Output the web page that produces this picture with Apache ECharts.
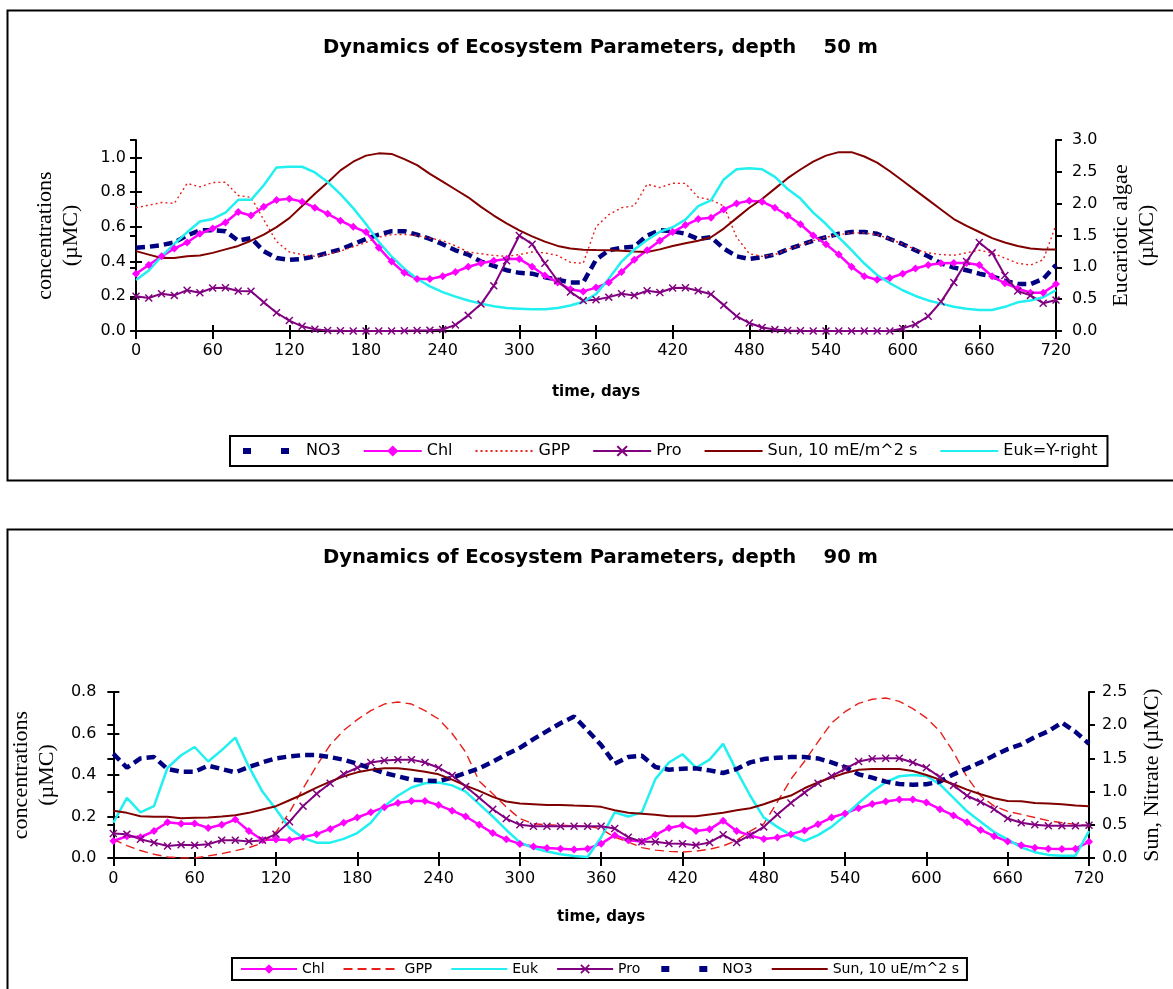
<!DOCTYPE html>
<html>
<head>
<meta charset="utf-8">
<script src="https://cdn.jsdelivr.net/npm/echarts@6/dist/echarts.min.js"></script>
<style>
  html, body { margin: 0; padding: 0; background: #fff; }
  #top { position: absolute; left: 0; top: 0; width: 1173px; height: 500px; }
  #bottom { position: absolute; left: 0; top: 500px; width: 1173px; height: 489px; }
</style>
</head>
<body>
<div id="top"></div>
<div id="bottom"></div>
<script>
// Time axis (days) shared by both depths
const days = [0,10,20,30,40,50,60,70,80,90,100,110,120,130,140,150,160,170,180,190,
  200,210,220,230,240,250,260,270,280,290,300,310,320,330,340,350,360,370,380,390,
  400,410,420,430,440,450,460,470,480,490,500,510,520,530,540,550,560,570,580,590,
  600,610,620,630,640,650,660,670,680,690,700,710,720];

// ---- depth 50 m ----
const no3_50 = [0.48,0.485,0.495,0.51,0.55,0.58,0.58,0.575,0.52,0.535,
  0.46,0.42,0.41,0.415,0.43,0.45,0.47,0.50,0.53,0.555,
  0.575,0.575,0.555,0.53,0.50,0.465,0.44,0.40,0.375,0.35,
  0.335,0.33,0.31,0.295,0.28,0.28,0.41,0.465,0.48,0.485,
  0.55,0.58,0.575,0.56,0.53,0.54,0.475,0.43,0.415,0.425,
  0.44,0.47,0.495,0.52,0.54,0.56,0.57,0.57,0.56,0.53,
  0.50,0.465,0.43,0.39,0.365,0.35,0.33,0.315,0.29,0.27,
  0.27,0.30,0.38];
const chl_50 = [0.33,0.38,0.43,0.475,0.51,0.56,0.59,0.625,0.685,0.665,
  0.715,0.755,0.762,0.745,0.71,0.675,0.635,0.60,0.57,0.48,
  0.40,0.335,0.30,0.30,0.315,0.34,0.37,0.39,0.405,0.415,
  0.415,0.37,0.32,0.28,0.24,0.228,0.25,0.28,0.34,0.41,
  0.465,0.52,0.57,0.61,0.645,0.652,0.70,0.735,0.75,0.745,
  0.71,0.665,0.615,0.55,0.50,0.44,0.37,0.315,0.295,0.305,
  0.33,0.36,0.38,0.39,0.392,0.392,0.38,0.315,0.275,0.245,
  0.22,0.22,0.27];
const gpp_50 = [0.71,0.725,0.74,0.735,0.85,0.83,0.855,0.857,0.78,0.77,
  0.64,0.515,0.455,0.44,0.43,0.44,0.46,0.485,0.51,0.54,
  0.555,0.556,0.55,0.535,0.52,0.49,0.455,0.445,0.435,0.43,
  0.44,0.455,0.45,0.435,0.395,0.39,0.60,0.67,0.71,0.722,
  0.845,0.826,0.851,0.85,0.77,0.755,0.72,0.54,0.445,0.43,
  0.44,0.47,0.495,0.52,0.54,0.555,0.565,0.565,0.555,0.53,
  0.50,0.47,0.45,0.44,0.436,0.45,0.465,0.45,0.42,0.39,
  0.38,0.41,0.61];
const pro_50 = [0.20,0.19,0.215,0.205,0.235,0.22,0.248,0.249,0.23,0.229,
  0.165,0.105,0.06,0.027,0.01,0.003,0.001,0,0,0,
  0,0.001,0.003,0.005,0.009,0.035,0.09,0.155,0.26,0.405,
  0.55,0.50,0.39,0.29,0.225,0.175,0.18,0.195,0.215,0.205,
  0.232,0.222,0.248,0.249,0.232,0.212,0.149,0.085,0.046,0.02,
  0.008,0.003,0.001,0,0,0,0,0,0,0,
  0.015,0.038,0.085,0.168,0.28,0.40,0.51,0.45,0.32,0.23,
  0.205,0.16,0.178];
const sun_50 = [0.46,0.44,0.42,0.42,0.43,0.435,0.45,0.47,0.49,0.52,
  0.555,0.598,0.65,0.72,0.79,0.855,0.925,0.975,1.01,1.023,
  1.02,0.99,0.955,0.905,0.86,0.815,0.77,0.715,0.665,0.62,
  0.58,0.545,0.515,0.49,0.475,0.468,0.466,0.465,0.462,0.458,
  0.455,0.47,0.49,0.505,0.52,0.54,0.59,0.65,0.71,0.76,
  0.82,0.88,0.93,0.975,1.01,1.03,1.03,1.005,0.97,0.92,
  0.865,0.81,0.755,0.70,0.645,0.605,0.57,0.535,0.51,0.49,
  0.475,0.47,0.47];
const euk_50 = [0.80,0.95,1.17,1.37,1.55,1.72,1.76,1.86,2.06,2.06,
  2.29,2.57,2.58,2.58,2.49,2.34,2.15,1.93,1.68,1.40,
  1.17,0.98,0.82,0.70,0.61,0.54,0.48,0.43,0.39,0.36,
  0.35,0.34,0.34,0.36,0.40,0.46,0.58,0.82,1.09,1.28,
  1.43,1.56,1.63,1.75,1.96,2.05,2.38,2.54,2.555,2.54,
  2.42,2.23,2.08,1.86,1.68,1.47,1.27,1.06,0.88,0.75,
  0.64,0.55,0.48,0.43,0.38,0.35,0.33,0.33,0.38,0.45,
  0.48,0.53,0.64];

// ---- depth 90 m ----
const chl_90 = [0.082,0.105,0.10,0.13,0.172,0.165,0.166,0.145,0.16,0.185,
  0.13,0.087,0.089,0.087,0.10,0.115,0.14,0.17,0.195,0.22,
  0.245,0.265,0.275,0.275,0.255,0.228,0.20,0.16,0.12,0.09,
  0.068,0.055,0.048,0.045,0.041,0.045,0.069,0.11,0.086,0.08,
  0.112,0.145,0.158,0.13,0.138,0.18,0.13,0.108,0.092,0.099,
  0.115,0.133,0.163,0.195,0.215,0.24,0.26,0.272,0.282,0.282,
  0.268,0.235,0.205,0.172,0.135,0.105,0.08,0.062,0.05,0.045,
  0.043,0.045,0.078];
const gpp_90 = [0.09,0.06,0.036,0.018,0.005,0,0,0.01,0.021,0.035,
  0.05,0.072,0.125,0.22,0.335,0.445,0.545,0.615,0.667,0.71,
  0.742,0.752,0.742,0.71,0.67,0.60,0.51,0.37,0.31,0.245,
  0.19,0.165,0.16,0.158,0.155,0.153,0.14,0.10,0.077,0.05,
  0.038,0.032,0.029,0.033,0.042,0.058,0.085,0.13,0.165,0.27,
  0.38,0.465,0.56,0.65,0.705,0.745,0.765,0.771,0.755,0.72,
  0.675,0.61,0.51,0.39,0.30,0.25,0.225,0.21,0.195,0.18,
  0.17,0.162,0.155];
const euk_90 = [0.17,0.29,0.22,0.25,0.435,0.495,0.535,0.465,0.52,0.58,
  0.44,0.32,0.235,0.145,0.097,0.074,0.074,0.092,0.12,0.17,
  0.25,0.30,0.34,0.36,0.364,0.35,0.32,0.26,0.20,0.135,
  0.075,0.048,0.031,0.018,0.01,0.005,0.10,0.22,0.20,0.22,
  0.38,0.46,0.50,0.435,0.474,0.55,0.42,0.30,0.195,0.15,
  0.11,0.082,0.11,0.15,0.205,0.265,0.32,0.365,0.394,0.40,
  0.395,0.355,0.29,0.225,0.175,0.125,0.09,0.051,0.028,0.015,
  0.011,0.011,0.13];
const pro_90 = [0.118,0.115,0.09,0.074,0.058,0.064,0.061,0.066,0.086,0.086,
  0.08,0.086,0.115,0.175,0.25,0.31,0.36,0.405,0.435,0.46,
  0.47,0.474,0.474,0.46,0.435,0.398,0.345,0.29,0.235,0.19,
  0.16,0.153,0.153,0.153,0.153,0.153,0.153,0.142,0.10,0.078,
  0.078,0.07,0.069,0.062,0.075,0.112,0.075,0.11,0.15,0.21,
  0.265,0.315,0.36,0.395,0.43,0.465,0.478,0.481,0.481,0.46,
  0.435,0.39,0.35,0.30,0.27,0.235,0.19,0.17,0.16,0.155,
  0.155,0.155,0.158];
const no3_90 = [1.57,1.36,1.50,1.52,1.34,1.30,1.30,1.39,1.34,1.29,
  1.37,1.44,1.50,1.53,1.55,1.55,1.52,1.48,1.42,1.35,
  1.28,1.23,1.18,1.165,1.16,1.21,1.28,1.35,1.45,1.56,
  1.66,1.79,1.91,2.03,2.13,1.92,1.70,1.42,1.52,1.54,
  1.37,1.33,1.345,1.35,1.32,1.28,1.34,1.44,1.49,1.51,
  1.52,1.52,1.50,1.44,1.37,1.26,1.21,1.15,1.115,1.105,
  1.11,1.15,1.26,1.35,1.44,1.545,1.64,1.71,1.82,1.91,
  2.04,1.90,1.72];
const sun_90 = [0.71,0.68,0.63,0.62,0.62,0.60,0.605,0.61,0.625,0.645,
  0.68,0.73,0.78,0.87,0.96,1.06,1.15,1.23,1.29,1.33,
  1.35,1.35,1.33,1.30,1.26,1.18,1.09,1.01,0.92,0.85,
  0.82,0.81,0.80,0.80,0.79,0.785,0.77,0.72,0.68,0.665,
  0.65,0.63,0.63,0.63,0.655,0.68,0.72,0.75,0.81,0.88,
  0.94,1.05,1.14,1.21,1.28,1.33,1.34,1.34,1.34,1.31,
  1.25,1.18,1.11,1.03,0.96,0.90,0.86,0.855,0.83,0.82,
  0.81,0.79,0.78];

const leftTicks50 = [0, 0.2, 0.4, 0.6, 0.8, 1.0];

// ---- styling helpers ----
const SANS = 'DejaVu Sans';
const SERIF = 'Liberation Serif';
const XMARK = 'path://M0,1.3L1.3,0L5,3.7L8.7,0L10,1.3L6.3,5L10,8.7L8.7,10L5,6.3L1.3,10L0,8.7L3.7,5Z';
const C = { no3: '#000080', chl: '#ff00ff', gpp: '#e8201c', pro: '#800080', sun: '#800000', euk: '#22f0f0' };

function pairs(arr) { return days.map((d, i) => [d, arr[i]]); }

function line(name, arr, color, opts) {
  opts = opts || {};
  return {
    name: name,
    type: 'line',
    data: pairs(arr),
    xAxisIndex: 0,
    yAxisIndex: opts.right ? 1 : 0,
    showSymbol: !!opts.symbol,
    symbol: opts.symbol || 'none',
    symbolSize: opts.symbolSize || 7,
    itemStyle: { color: color, borderWidth: 0 },
    lineStyle: { color: color, width: opts.width || 2, type: opts.dash || 'solid' },
    emphasis: { disabled: true },
    animation: false
  };
}

// legend entry for a plain line (no marker in the sample)
function plain(name, lineStyle) {
  const item = { name: name, itemStyle: { opacity: 0 } };
  if (lineStyle) item.lineStyle = lineStyle;
  return item;
}

function xAxes(labelMargin, nameGap) {
  return [{
    type: 'value', min: 0, max: 720, interval: 60, position: 'bottom',
    name: 'time, days', nameLocation: 'middle', nameGap: nameGap,
    nameTextStyle: { fontFamily: SANS, fontWeight: 'bold', fontSize: 15, color: '#000' },
    axisLine: { onZero: false, lineStyle: { color: '#000', width: 2 } },
    axisTick: { length: 8, lineStyle: { color: '#000', width: 2 } },
    axisLabel: { margin: labelMargin, fontFamily: SANS, fontSize: 16, color: '#000' },
    splitLine: { show: false }
  }, {
    type: 'value', min: 0, max: 720, interval: 60, position: 'bottom',
    axisLine: { show: false },
    axisTick: { inside: true, length: 6, lineStyle: { color: '#000', width: 2 } },
    axisLabel: { show: false }, splitLine: { show: false }
  }];
}

function yAxis(pos, min, max, interval, name, nameGap, labelMargin, ticks) {
  const main = {
    type: 'value', position: pos, min: min, max: max, interval: interval,
    name: name, nameLocation: 'middle', nameRotate: 90, nameGap: nameGap,
    nameTextStyle: { fontFamily: SERIF, fontSize: 22, lineHeight: 26, color: '#000' },
    axisLine: { show: true, onZero: false, lineStyle: { color: '#000', width: 2 } },
    axisTick: { show: true, length: 6, lineStyle: { color: '#000', width: 2 } },
    axisLabel: { margin: labelMargin, fontFamily: SANS, fontSize: 16, color: '#000',
      formatter: v => v.toFixed(1) },
    splitLine: { show: false }
  };
  const dup = {
    type: 'value', position: pos, min: min, max: max, interval: interval,
    axisLine: { show: false },
    axisTick: { show: true, inside: true, length: 6, lineStyle: { color: '#000', width: 2 } },
    axisLabel: { show: false }, splitLine: { show: false }
  };
  if (ticks) {
    main.axisTick.customValues = ticks;
    main.axisLabel.customValues = ticks;
    dup.axisTick.customValues = ticks;
  }
  return [main, dup];
}

function frame(y, h) {
  return {
    type: 'rect', left: 5, top: y, silent: true,
    shape: { x: 0, y: 0, width: 1220, height: h },
    style: { fill: 'none', stroke: '#000', lineWidth: 2 }
  };
}

const titleStyle = { fontFamily: SANS, fontWeight: 'bold', fontSize: 19.6, color: '#000' };
const NO3_KEY = { type: [8, 30], width: 6 };

// ---------------- top chart: 50 m ----------------
const topChart = echarts.init(document.getElementById('top'));
const yl50 = yAxis('left', 0, 1.1, 0.2, 'concentrations\n(\u00b5MC)', 52, 10, leftTicks50);
const yr50 = yAxis('right', 0, 3.0, 0.5, 'Eucariotic algae\n(\u00b5MC)', 48, 16, null);
topChart.setOption({
  animation: false,
  backgroundColor: '#fff',
  graphic: [frame(8, 470)],
  title: { text: 'Dynamics of Ecosystem Parameters, depth    50 m', left: 318, top: 33, textStyle: titleStyle },
  grid: { left: 136, right: 117, top: 140, height: 191, containLabel: false },
  xAxis: xAxes(12, 54),
  yAxis: [yl50[0], yr50[0], yl50[1], yr50[1]],
  legend: {
    left: 230, top: 436, itemWidth: 58, itemHeight: 14, itemGap: 22,
    borderColor: '#000', borderWidth: 2, padding: [7, 10],
    textStyle: { fontFamily: SANS, fontSize: 16, color: '#000' }, selectedMode: false,
    data: [
      plain('NO3', NO3_KEY),
      'Chl', plain('GPP'), 'Pro', plain('Sun, 10 mE/m^2 s'), plain('Euk=Y-right')
    ]
  },
  series: [
    line('NO3', no3_50, C.no3, { width: 4.5, dash: [9, 5] }),
    line('Chl', chl_50, C.chl, { symbol: 'diamond', symbolSize: 8, width: 2.5 }),
    line('GPP', gpp_50, C.gpp, { width: 1.4, dash: [2, 3] }),
    line('Pro', pro_50, C.pro, { symbol: XMARK, symbolSize: 8, width: 2 }),
    line('Sun, 10 mE/m^2 s', sun_50, C.sun, { width: 2 }),
    line('Euk=Y-right', euk_50, C.euk, { width: 2.5, right: true })
  ]
});

// ---------------- bottom chart: 90 m ----------------
const botChart = echarts.init(document.getElementById('bottom'));
const yl90 = yAxis('left', 0, 0.8, 0.2, 'concentrations\n(\u00b5MC)', 48, 17, null);
const yr90 = yAxis('right', 0, 2.5, 0.5, 'Sun, Nitrate (\u00b5MC)', 50, 13, null);
botChart.setOption({
  animation: false,
  backgroundColor: '#fff',
  graphic: [frame(27, 500)],
  title: { text: 'Dynamics of Ecosystem Parameters, depth    90 m', left: 318, top: 43, textStyle: titleStyle },
  grid: { left: 104, right: 78, top: 192, height: 166, containLabel: false },
  xAxis: xAxes(13, 52),
  yAxis: [yl90[0], yr90[0], yl90[1], yr90[1]],
  legend: {
    left: 232, top: 458, itemWidth: 56, itemHeight: 12, itemGap: 18,
    borderColor: '#000', borderWidth: 2, padding: [4, 8],
    textStyle: { fontFamily: SANS, fontSize: 14, color: '#000' }, selectedMode: false,
    data: [
      'Chl', plain('GPP'), plain('Euk'), 'Pro',
      plain('NO3', NO3_KEY), plain('Sun, 10 uE/m^2 s')
    ]
  },
  series: [
    line('Chl', chl_90, C.chl, { symbol: 'diamond', symbolSize: 8, width: 2.5 }),
    line('GPP', gpp_90, C.gpp, { width: 1.4, dash: [9, 5] }),
    line('Euk', euk_90, C.euk, { width: 2.5 }),
    line('Pro', pro_90, C.pro, { symbol: XMARK, symbolSize: 8, width: 2 }),
    line('NO3', no3_90, C.no3, { width: 4.5, dash: [9, 5], right: true }),
    line('Sun, 10 uE/m^2 s', sun_90, C.sun, { width: 2, right: true })
  ]
});
</script>
</body>
</html>
